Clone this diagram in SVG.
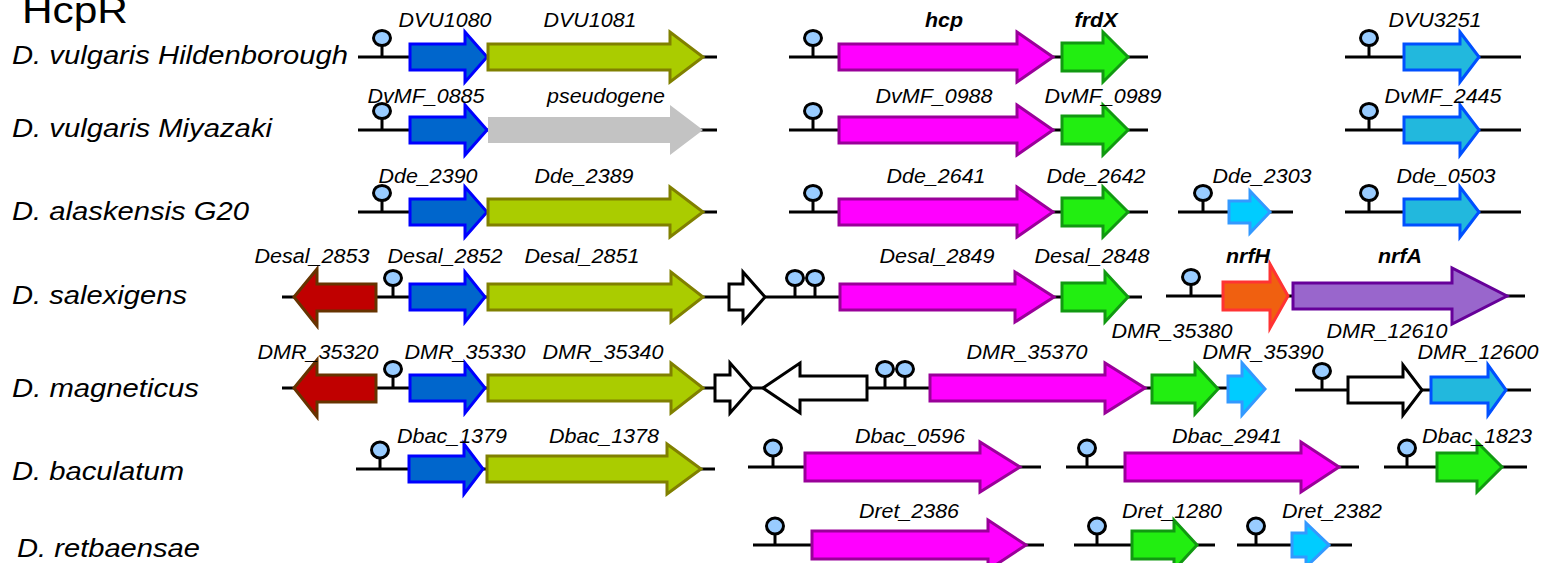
<svg xmlns="http://www.w3.org/2000/svg" width="1543" height="563" viewBox="0 0 1543 563">
<style>
text{font-family:"Liberation Sans",Arial,sans-serif;fill:#000}
.title{font-size:36px}
.org{font-size:25px;font-style:italic}
.lab{font-size:20px;font-style:italic;text-anchor:middle}
.b{font-weight:bold}
.ln{stroke:#000;stroke-width:3;fill:none}
.gene polygon{stroke-width:3;stroke-linejoin:miter}
.blue polygon{fill:#0066CC;stroke:#0000FF}
.olive polygon{fill:#AACC00;stroke:#808000}
.gray polygon{fill:#C3C3C3;stroke:none}
.mag polygon{fill:#FF00FF;stroke:#990099}
.grn polygon{fill:#22EE11;stroke:#119911}
.teal polygon{fill:#22B8DD;stroke:#0050FF}
.cyan polygon{fill:#00CCFF;stroke:#3399FF}
.red polygon{fill:#C00000;stroke:#663300}
.orng polygon{fill:#F06010;stroke:#FF3333}
.purp polygon{fill:#9966CC;stroke:#660099}
.wht polygon{fill:#FFFFFF;stroke:#000}
.pin ellipse{fill:#99CCFF;stroke:#000;stroke-width:3}
.pin line{stroke:#000;stroke-width:3}
</style>

<text class="title" x="22" y="23" textLength="106" lengthAdjust="spacingAndGlyphs">HcpR</text>

<g id="organisms">
<text class="org" x="12" y="64" textLength="336" lengthAdjust="spacingAndGlyphs">D. vulgaris Hildenborough</text>
<text class="org" x="12" y="137" textLength="260" lengthAdjust="spacingAndGlyphs">D. vulgaris Miyazaki</text>
<text class="org" x="12" y="220" textLength="237" lengthAdjust="spacingAndGlyphs">D. alaskensis G20</text>
<text class="org" x="12" y="304" textLength="175" lengthAdjust="spacingAndGlyphs">D. salexigens</text>
<text class="org" x="12" y="397" textLength="187" lengthAdjust="spacingAndGlyphs">D. magneticus</text>
<text class="org" x="12" y="480" textLength="172" lengthAdjust="spacingAndGlyphs">D. baculatum</text>
<text class="org" x="17" y="557" textLength="183" lengthAdjust="spacingAndGlyphs">D. retbaensae</text>
</g>

<g id="connectors" class="ln">
<line x1="358" y1="57" x2="717" y2="57"/>
<line x1="789" y1="57" x2="1148" y2="57"/>
<line x1="1345" y1="57" x2="1521" y2="57"/>
<line x1="358" y1="130" x2="717" y2="130"/>
<line x1="789" y1="130" x2="1148" y2="130"/>
<line x1="1345" y1="130" x2="1521" y2="130"/>
<line x1="358" y1="212" x2="717" y2="212"/>
<line x1="789" y1="212" x2="1148" y2="212"/>
<line x1="1178" y1="212" x2="1293" y2="212"/>
<line x1="1345" y1="212" x2="1521" y2="212"/>
<line x1="282" y1="297" x2="1142" y2="297"/>
<line x1="1166" y1="296" x2="1525" y2="296"/>
<line x1="282" y1="388" x2="1228" y2="388"/>
<line x1="1295" y1="390" x2="1531" y2="390"/>
<line x1="356" y1="469" x2="715" y2="469"/>
<line x1="748" y1="467" x2="1041" y2="467"/>
<line x1="1066" y1="467" x2="1359" y2="467"/>
<line x1="1384" y1="467" x2="1527" y2="467"/>
<line x1="753" y1="545" x2="1044" y2="545"/>
<line x1="1074" y1="545" x2="1215" y2="545"/>
<line x1="1237" y1="545" x2="1352" y2="545"/>
</g>

<g id="sites" class="pin">
<line x1="382" y1="45" x2="382" y2="57"/><ellipse cx="382" cy="38" rx="8.5" ry="7.5"/>
<line x1="813" y1="45" x2="813" y2="57"/><ellipse cx="813" cy="38" rx="8.5" ry="7.5"/>
<line x1="1369" y1="45" x2="1369" y2="57"/><ellipse cx="1369" cy="38" rx="8.5" ry="7.5"/>
<line x1="382" y1="118" x2="382" y2="130"/><ellipse cx="382" cy="111" rx="8.5" ry="7.5"/>
<line x1="813" y1="118" x2="813" y2="130"/><ellipse cx="813" cy="111" rx="8.5" ry="7.5"/>
<line x1="1369" y1="118" x2="1369" y2="130"/><ellipse cx="1369" cy="111" rx="8.5" ry="7.5"/>
<line x1="382" y1="200" x2="382" y2="212"/><ellipse cx="382" cy="193" rx="8.5" ry="7.5"/>
<line x1="813" y1="200" x2="813" y2="212"/><ellipse cx="813" cy="193" rx="8.5" ry="7.5"/>
<line x1="1203" y1="200" x2="1203" y2="212"/><ellipse cx="1203" cy="193" rx="8.5" ry="7.5"/>
<line x1="1369" y1="200" x2="1369" y2="212"/><ellipse cx="1369" cy="193" rx="8.5" ry="7.5"/>
<line x1="393" y1="285" x2="393" y2="297"/><ellipse cx="393" cy="278" rx="8.5" ry="7.5"/>
<line x1="795" y1="285" x2="795" y2="297"/><ellipse cx="795" cy="278" rx="8.5" ry="7.5"/>
<line x1="815" y1="285" x2="815" y2="297"/><ellipse cx="815" cy="278" rx="8.5" ry="7.5"/>
<line x1="1191" y1="284" x2="1191" y2="296"/><ellipse cx="1191" cy="277" rx="8.5" ry="7.5"/>
<line x1="393" y1="376" x2="393" y2="388"/><ellipse cx="393" cy="369" rx="8.5" ry="7.5"/>
<line x1="885" y1="376" x2="885" y2="388"/><ellipse cx="885" cy="369" rx="8.5" ry="7.5"/>
<line x1="905" y1="376" x2="905" y2="388"/><ellipse cx="905" cy="369" rx="8.5" ry="7.5"/>
<line x1="1322" y1="378" x2="1322" y2="390"/><ellipse cx="1322" cy="371" rx="8.5" ry="7.5"/>
<line x1="380" y1="457" x2="380" y2="469"/><ellipse cx="380" cy="450" rx="8.5" ry="8"/>
<line x1="773" y1="455" x2="773" y2="467"/><ellipse cx="773" cy="448" rx="8.5" ry="8"/>
<line x1="1087" y1="455" x2="1087" y2="467"/><ellipse cx="1087" cy="448" rx="8.5" ry="8"/>
<line x1="1407" y1="455" x2="1407" y2="467"/><ellipse cx="1407" cy="448" rx="8.5" ry="8"/>
<line x1="775" y1="533" x2="775" y2="545"/><ellipse cx="775" cy="526" rx="8.5" ry="8"/>
<line x1="1097" y1="533" x2="1097" y2="545"/><ellipse cx="1097" cy="526" rx="8.5" ry="8"/>
<line x1="1256" y1="533" x2="1256" y2="545"/><ellipse cx="1256" cy="526" rx="8.5" ry="8"/>
</g>

<!-- Row 1 -->
<g id="DVU1080" class="gene blue"><polygon points="410,44 465,44 465,32 487,57 465,82 465,70 410,70"/><text class="lab" x="445" y="27" textLength="93" lengthAdjust="spacingAndGlyphs">DVU1080</text></g>
<g id="DVU1081" class="gene olive"><polygon points="488,44 670,44 670,32 703,57 670,82 670,70 488,70"/><text class="lab" x="590" y="27" textLength="93" lengthAdjust="spacingAndGlyphs">DVU1081</text></g>
<g id="hcp" class="gene mag"><polygon points="839,44 1017,44 1017,32 1053,57 1017,82 1017,70 839,70"/><text class="lab b" x="944" y="27" textLength="38" lengthAdjust="spacingAndGlyphs">hcp</text></g>
<g id="frdX" class="gene grn"><polygon points="1062,43 1103,43 1103,32 1128,57 1103,82 1103,71 1062,71"/><text class="lab b" x="1096" y="27" textLength="43" lengthAdjust="spacingAndGlyphs">frdX</text></g>
<g id="DVU3251" class="gene teal"><polygon points="1404,44 1460,44 1460,32 1479,57 1460,82 1460,70 1404,70"/><text class="lab" x="1435" y="27" textLength="93" lengthAdjust="spacingAndGlyphs">DVU3251</text></g>

<!-- Row 2 -->
<g id="DvMF_0885" class="gene blue"><polygon points="410,117 465,117 465,105 487,130 465,155 465,143 410,143"/><text class="lab" x="426" y="103" textLength="117" lengthAdjust="spacingAndGlyphs">DvMF_0885</text></g>
<g id="pseudogene" class="gene gray"><polygon points="488,117 670,117 670,105 703,130 670,155 670,143 488,143"/><text class="lab" x="606" y="103" textLength="118" lengthAdjust="spacingAndGlyphs">pseudogene</text></g>
<g id="DvMF_0988" class="gene mag"><polygon points="839,117 1017,117 1017,105 1053,130 1017,155 1017,143 839,143"/><text class="lab" x="934" y="103" textLength="117" lengthAdjust="spacingAndGlyphs">DvMF_0988</text></g>
<g id="DvMF_0989" class="gene grn"><polygon points="1062,116 1103,116 1103,105 1128,130 1103,155 1103,144 1062,144"/><text class="lab" x="1103" y="103" textLength="117" lengthAdjust="spacingAndGlyphs">DvMF_0989</text></g>
<g id="DvMF_2445" class="gene teal"><polygon points="1404,117 1460,117 1460,105 1479,130 1460,155 1460,143 1404,143"/><text class="lab" x="1443" y="103" textLength="117" lengthAdjust="spacingAndGlyphs">DvMF_2445</text></g>

<!-- Row 3 -->
<g id="Dde_2390" class="gene blue"><polygon points="410,199 465,199 465,187 487,212 465,237 465,225 410,225"/><text class="lab" x="428" y="183" textLength="99" lengthAdjust="spacingAndGlyphs">Dde_2390</text></g>
<g id="Dde_2389" class="gene olive"><polygon points="488,199 670,199 670,187 703,212 670,237 670,225 488,225"/><text class="lab" x="584" y="183" textLength="99" lengthAdjust="spacingAndGlyphs">Dde_2389</text></g>
<g id="Dde_2641" class="gene mag"><polygon points="839,199 1017,199 1017,187 1053,212 1017,237 1017,225 839,225"/><text class="lab" x="936" y="183" textLength="99" lengthAdjust="spacingAndGlyphs">Dde_2641</text></g>
<g id="Dde_2642" class="gene grn"><polygon points="1062,198 1103,198 1103,187 1128,212 1103,237 1103,226 1062,226"/><text class="lab" x="1096" y="183" textLength="99" lengthAdjust="spacingAndGlyphs">Dde_2642</text></g>
<g id="Dde_2303" class="gene cyan"><polygon points="1229,201 1250,201 1250,191 1270,212 1250,233 1250,223 1229,223"/><text class="lab" x="1262" y="183" textLength="99" lengthAdjust="spacingAndGlyphs">Dde_2303</text></g>
<g id="Dde_0503" class="gene teal"><polygon points="1404,199 1460,199 1460,187 1479,212 1460,237 1460,225 1404,225"/><text class="lab" x="1446" y="183" textLength="99" lengthAdjust="spacingAndGlyphs">Dde_0503</text></g>

<!-- Row 4 -->
<g id="Desal_2853" class="gene red"><polygon points="294,297 317,269 317,284 376,284 376,311 317,311 317,326"/><text class="lab" x="312" y="263" textLength="115" lengthAdjust="spacingAndGlyphs">Desal_2853</text></g>
<g id="Desal_2852" class="gene blue"><polygon points="410,284 465,284 465,272 485,297 465,322 465,310 410,310"/><text class="lab" x="445" y="263" textLength="115" lengthAdjust="spacingAndGlyphs">Desal_2852</text></g>
<g id="Desal_2851" class="gene olive"><polygon points="488,284 671,284 671,272 703,297 671,322 671,310 488,310"/><text class="lab" x="582" y="263" textLength="115" lengthAdjust="spacingAndGlyphs">Desal_2851</text></g>
<g id="Desal_orf" class="gene wht"><polygon points="729,284 743,284 743,272 765,297 743,322 743,310 729,310"/></g>
<g id="Desal_2849" class="gene mag"><polygon points="840,284 1015,284 1015,272 1054,297 1015,322 1015,310 840,310"/><text class="lab" x="937" y="263" textLength="115" lengthAdjust="spacingAndGlyphs">Desal_2849</text></g>
<g id="Desal_2848" class="gene grn"><polygon points="1062,283 1105,283 1105,272 1128,297 1105,322 1105,311 1062,311"/><text class="lab" x="1092" y="263" textLength="115" lengthAdjust="spacingAndGlyphs">Desal_2848</text></g>
<g id="nrfH" class="gene orng"><polygon points="1223,282 1270,282 1270,264 1288,296 1270,328 1270,310 1223,310"/><text class="lab b" x="1248" y="263" textLength="44" lengthAdjust="spacingAndGlyphs">nrfH</text></g>
<g id="nrfA" class="gene purp"><polygon points="1293,283 1452,283 1452,268 1507,296 1452,324 1452,309 1293,309"/><text class="lab b" x="1400" y="263" textLength="44" lengthAdjust="spacingAndGlyphs">nrfA</text></g>

<!-- Row 5 -->
<g id="DMR_35320" class="gene red"><polygon points="294,388 317,360 317,375 376,375 376,402 317,402 317,417"/><text class="lab" x="318" y="359" textLength="121" lengthAdjust="spacingAndGlyphs">DMR_35320</text></g>
<g id="DMR_35330" class="gene blue"><polygon points="410,375 465,375 465,363 485,388 465,413 465,401 410,401"/><text class="lab" x="465" y="359" textLength="121" lengthAdjust="spacingAndGlyphs">DMR_35330</text></g>
<g id="DMR_35340" class="gene olive"><polygon points="488,375 671,375 671,363 703,388 671,413 671,401 488,401"/><text class="lab" x="603" y="359" textLength="121" lengthAdjust="spacingAndGlyphs">DMR_35340</text></g>
<g id="DMR_orf1" class="gene wht"><polygon points="715,375 730,375 730,363 752,388 730,413 730,401 715,401"/></g>
<g id="DMR_orf2" class="gene wht"><polygon points="763,388 800,363 800,376 867,376 867,400 800,400 800,413"/></g>
<g id="DMR_35370" class="gene mag"><polygon points="930,375 1105,375 1105,363 1145,388 1105,413 1105,401 930,401"/><text class="lab" x="1027" y="359" textLength="121" lengthAdjust="spacingAndGlyphs">DMR_35370</text></g>
<g id="DMR_35380" class="gene grn"><polygon points="1152,375 1195,375 1195,364 1218,389 1195,414 1195,403 1152,403"/><text class="lab" x="1172" y="338" textLength="121" lengthAdjust="spacingAndGlyphs">DMR_35380</text></g>
<g id="DMR_35390" class="gene cyan"><polygon points="1228,376 1242,376 1242,363 1265,389 1242,415 1242,402 1228,402"/><text class="lab" x="1263" y="359" textLength="121" lengthAdjust="spacingAndGlyphs">DMR_35390</text></g>
<g id="DMR_12610" class="gene wht"><polygon points="1348,377 1403,377 1403,365 1422,390 1403,415 1403,403 1348,403"/><text class="lab" x="1387" y="338" textLength="121" lengthAdjust="spacingAndGlyphs">DMR_12610</text></g>
<g id="DMR_12600" class="gene teal"><polygon points="1431,377 1488,377 1488,365 1506,390 1488,415 1488,403 1431,403"/><text class="lab" x="1478" y="359" textLength="121" lengthAdjust="spacingAndGlyphs">DMR_12600</text></g>

<!-- Row 6 -->
<g id="Dbac_1379" class="gene blue"><polygon points="409,456 464,456 464,444 483,469 464,494 464,482 409,482"/><text class="lab" x="452" y="443" textLength="110" lengthAdjust="spacingAndGlyphs">Dbac_1379</text></g>
<g id="Dbac_1378" class="gene olive"><polygon points="487,456 667,456 667,444 701,469 667,494 667,482 487,482"/><text class="lab" x="604" y="443" textLength="110" lengthAdjust="spacingAndGlyphs">Dbac_1378</text></g>
<g id="Dbac_0596" class="gene mag"><polygon points="805,453 980,453 980,442 1020,467 980,492 980,481 805,481"/><text class="lab" x="910" y="443" textLength="110" lengthAdjust="spacingAndGlyphs">Dbac_0596</text></g>
<g id="Dbac_2941" class="gene mag"><polygon points="1125,453 1301,453 1301,442 1339,467 1301,492 1301,481 1125,481"/><text class="lab" x="1227" y="443" textLength="110" lengthAdjust="spacingAndGlyphs">Dbac_2941</text></g>
<g id="Dbac_1823" class="gene grn"><polygon points="1437,453 1477,453 1477,442 1502,467 1477,492 1477,481 1437,481"/><text class="lab" x="1477" y="443" textLength="110" lengthAdjust="spacingAndGlyphs">Dbac_1823</text></g>

<!-- Row 7 -->
<g id="Dret_2386" class="gene mag"><polygon points="812,531 988,531 988,520 1026,545 988,570 988,559 812,559"/><text class="lab" x="909" y="518" textLength="100" lengthAdjust="spacingAndGlyphs">Dret_2386</text></g>
<g id="Dret_1280" class="gene grn"><polygon points="1132,531 1174,531 1174,520 1197,545 1174,570 1174,559 1132,559"/><text class="lab" x="1172" y="518" textLength="100" lengthAdjust="spacingAndGlyphs">Dret_1280</text></g>
<g id="Dret_2382" class="gene cyan"><polygon points="1292,533 1306,533 1306,523 1329,545 1306,567 1306,557 1292,557"/><text class="lab" x="1332" y="518" textLength="100" lengthAdjust="spacingAndGlyphs">Dret_2382</text></g>
</svg>
